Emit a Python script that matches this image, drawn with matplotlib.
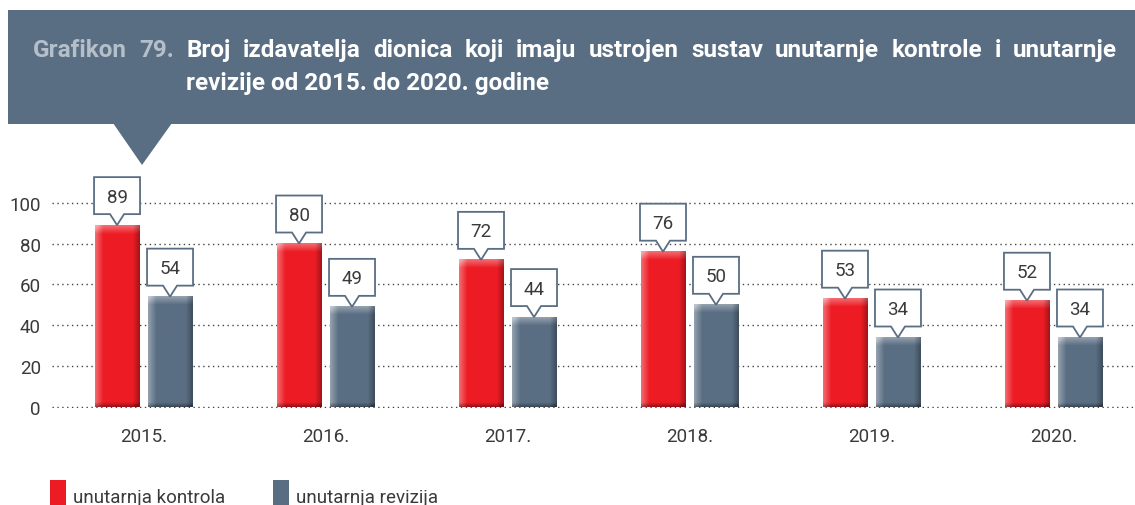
import matplotlib.pyplot as plt
import matplotlib.transforms as mtransforms
import numpy as np
from matplotlib.patches import Polygon, Rectangle
from matplotlib.colors import to_rgb

plt.rcParams['font.family'] = ['Roboto', 'DejaVu Sans']

# Data
years = ['2015.', '2016.', '2017.', '2018.', '2019.', '2020.']
kontrola = [89, 80, 72, 76, 53, 52]
revizija = [54, 49, 44, 50, 34, 34]
series_names = ['unutarnja kontrola', 'unutarnja revizija']
title_prefix = 'Grafikon 79.'
title_line1 = 'Broj izdavatelja dionica koji imaju ustrojen sustav unutarnje kontrole i unutarnje'
title_line2 = 'revizije od 2015. do 2020. godine'

RED = '#ed1c24'
SLATE = '#5a6e83'
TEXT = '#3a3a3a'

W, H = 1135, 506
fig = plt.figure(figsize=(W / 100, H / 100), dpi=100)


def fx(x):
    return x / W


def fy(y):
    return 1 - y / H


# ---- header banner with pointer ----
fig.add_artist(Rectangle((fx(8), fy(125)), fx(1135) - fx(8), fy(11) - fy(125),
                         transform=fig.transFigure, facecolor=SLATE, edgecolor='none'))
fig.add_artist(Polygon([(fx(113), fy(124)), (fx(172), fy(124)), (fx(142), fy(166))],
                       closed=True, transform=fig.transFigure, facecolor=SLATE, edgecolor='none'))

renderer = fig.canvas.get_renderer()
title_kw = dict(fontsize=17.5, fontweight='bold', va='baseline', ha='left',
                transform=fig.transFigure)

# justified first line: place words one by one
words = [(w, '#b5bfca') for w in title_prefix.split()] + [(w, 'white') for w in title_line1.split()]
texts = [fig.text(0, 0, w, color=c, **title_kw) for w, c in words]
widths = [t.get_window_extent(renderer).width for t in texts]
x_left, x_right = 33, 1117
gap = (x_right - x_left - sum(widths)) / (len(texts) - 1)
x = x_left
line2_x = None
for i, (t, wd) in enumerate(zip(texts, widths)):
    t.set_position((fx(x), fy(57)))
    if i == 2:
        line2_x = x
    x += wd + gap
fig.text(fx(line2_x), fy(90), title_line2, color='white', **title_kw)

# ---- bar chart ----
ax = fig.add_axes([fx(52), fy(409), 1 - fx(52), fy(173) - fy(409)])
xpos = np.arange(len(years))
bw = 0.242
off = 0.1456


def shaded(base, h, col_x0, col_x1):
    rgb = np.array(to_rgb(base))
    nx, ny = 60, 120
    u = np.linspace(0, 1, nx)
    v = np.linspace(0, 1, ny)  # 0 = top, 1 = bottom
    light = np.clip(1 - u / 0.18, 0, 1) * 0.35
    dark = np.clip((u - 0.85) / 0.15, 0, 1) * 0.3
    top_frac = min(4.0 / h, 0.5)
    bot_frac = min(2.0 / h, 0.3)
    vlight = np.clip(1 - v / top_frac, 0, 1) * 0.35
    vdark = np.clip((v - (1 - bot_frac)) / bot_frac, 0, 1) * 0.35
    L = np.clip(light[None, :] + vlight[:, None], 0, 0.6)
    D = np.clip(dark[None, :] + vdark[:, None], 0, 0.5)
    img = rgb[None, None, :] * (1 - L[..., None]) + L[..., None]
    img = img * (1 - D[..., None])
    ax.imshow(img, extent=[col_x0, col_x1, 0, h], aspect='auto', zorder=3,
              interpolation='bilinear')


ax.bar(xpos - off, kontrola, bw, color=RED, zorder=2, label=series_names[0])
ax.bar(xpos + off, revizija, bw, color=SLATE, zorder=2, label=series_names[1])
for xi, v in zip(xpos - off, kontrola):
    shaded(RED, v, xi - bw / 2, xi + bw / 2)
for xi, v in zip(xpos + off, revizija):
    shaded(SLATE, v, xi - bw / 2, xi + bw / 2)

# value callouts (sizes in pixels, anchored at the bar top)
ph, bh, cw, hw = 11, 37, 46, 7
shape = [(0, 0), (hw, ph), (cw / 2, ph), (cw / 2, ph + bh), (-cw / 2, ph + bh),
         (-cw / 2, ph), (-hw, ph)]
for xs, vals in ((xpos - off, kontrola), (xpos + off, revizija)):
    for xi, v in zip(xs, vals):
        tr = mtransforms.Affine2D() + mtransforms.ScaledTranslation(xi, v, ax.transData)
        ax.add_patch(Polygon(shape, closed=True, transform=tr, facecolor='white',
                             edgecolor=SLATE, linewidth=1.3, joinstyle='miter',
                             zorder=5, clip_on=False))
        ax.annotate(str(v), xy=(xi, v), xytext=(0, ph + bh / 2 - 1),
                    textcoords='offset pixels', ha='center', va='center',
                    fontsize=13.5, color=TEXT, zorder=6, annotation_clip=False)

ax.set_xlim(-0.503, 5.448)
ax.set_ylim(-0.5, 115)
ax.set_yticks(range(0, 101, 20))
ax.set_xticks(xpos)
ax.set_xticklabels(years)
ax.tick_params(axis='both', length=0, labelsize=13.5, labelcolor=TEXT)
ax.tick_params(axis='y', pad=8)
ax.tick_params(axis='x', pad=14)
ax.grid(axis='y', linestyle=(0, (1, 2.5)), color='#444444', linewidth=1.0, zorder=0)
ax.set_axisbelow(True)
for s in ax.spines.values():
    s.set_visible(False)

# ---- legend ----
for (lx, name, col) in ((50, series_names[0], RED), (273, series_names[1], SLATE)):
    fig.add_artist(Rectangle((fx(lx), fy(510)), fx(16), fy(481) - fy(510),
                             transform=fig.transFigure, facecolor=col, edgecolor='none'))
    fig.text(fx(lx + 23), fy(503), name, fontsize=13.5, color=TEXT,
             va='baseline', ha='left')

fig.savefig('out.png', dpi=100)
